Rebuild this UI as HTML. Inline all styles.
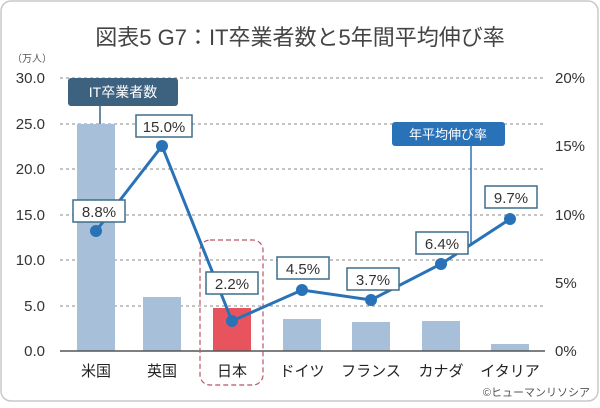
<!DOCTYPE html>
<html><head><meta charset="utf-8"><style>
body{margin:0;background:#fff;}
svg text{font-family:"Liberation Sans","Noto Sans CJK JP",sans-serif;}
</style></head><body>
<svg width="600" height="403" viewBox="0 0 600 403" xmlns="http://www.w3.org/2000/svg">
<rect x="1" y="1" width="597" height="400" rx="10" fill="#fff" stroke="#c8c8c8" stroke-width="1.5"/>
<text x="300" y="45" font-size="22" fill="#444" text-anchor="middle">図表5 G7：IT卒業者数と5年間平均伸び率</text>
<text x="12" y="62" font-size="10" fill="#555">（万人）</text>
<g stroke="#888" stroke-width="1" stroke-dasharray="3,3">
<line x1="60" y1="78" x2="545" y2="78"/><line x1="60" y1="124" x2="545" y2="124"/>
<line x1="60" y1="169" x2="545" y2="169"/><line x1="60" y1="215" x2="545" y2="215"/>
<line x1="60" y1="260" x2="545" y2="260"/><line x1="60" y1="306" x2="545" y2="306"/>
</g>
<g font-size="15" fill="#333" text-anchor="end">
<text x="45" y="83">30.0</text><text x="45" y="129">25.0</text><text x="45" y="174">20.0</text>
<text x="45" y="220">15.0</text><text x="45" y="265">10.0</text><text x="45" y="311">5.0</text><text x="45" y="356">0.0</text>
</g>
<g font-size="15" fill="#333">
<text x="555" y="83">20%</text><text x="555" y="151">15%</text><text x="555" y="220">10%</text>
<text x="555" y="288">5%</text><text x="555" y="356">0%</text>
</g>
<g fill="#a7bfd8">
<rect x="77" y="124" width="38" height="227"/><rect x="143" y="297" width="38" height="54"/>
<rect x="283" y="319" width="38" height="32"/><rect x="352" y="322" width="38" height="29"/>
<rect x="422" y="321" width="38" height="30"/><rect x="491" y="344" width="38" height="7"/>
</g>
<rect x="213" y="308" width="38" height="43" fill="#e8545e"/>
<line x1="60" y1="351" x2="545" y2="351" stroke="#555" stroke-width="1.5"/>
<rect x="200" y="240" width="63" height="145" rx="10" fill="none" stroke="#b56" stroke-width="1.2" stroke-dasharray="5,3"/>
<g font-size="15" fill="#222" text-anchor="middle">
<text x="96" y="376">米国</text><text x="162" y="376">英国</text><text x="232" y="376">日本</text>
<text x="302" y="376">ドイツ</text><text x="371" y="376">フランス</text><text x="441" y="376">カナダ</text><text x="510" y="376">イタリア</text>
</g>
<text x="590" y="396" font-size="11" fill="#555" text-anchor="end">©ヒューマンリソシア</text>
<line x1="100" y1="106" x2="100" y2="124" stroke="#3d6280" stroke-width="1.5"/>
<rect x="68" y="78" width="110" height="28" rx="3" fill="#3d6280"/>
<text x="123" y="97" font-size="14" fill="#fff" text-anchor="middle">IT卒業者数</text>
<polyline points="96,231 162,146 232,321 302,290 371,300 441,264 510,219" fill="none" stroke="#2a72b8" stroke-width="3"/>
<line x1="471" y1="146" x2="471" y2="246" stroke="#2a72b8" stroke-width="1.5"/>
<rect x="392" y="122" width="113" height="24" rx="3" fill="#2a72b8"/>
<text x="448" y="139" font-size="13" fill="#fff" text-anchor="middle">年平均伸び率</text>
<g fill="#2a72b8">
<circle cx="96" cy="231" r="6"/><circle cx="162" cy="146" r="6"/><circle cx="232" cy="321" r="6"/>
<circle cx="302" cy="290" r="6"/><circle cx="371" cy="300" r="6"/><circle cx="441" cy="264" r="6"/><circle cx="510" cy="219" r="6"/>
</g>
<g fill="#fff" stroke="#3d6f8a" stroke-width="1.5">
<rect x="73" y="200" width="52" height="22"/><rect x="136" y="115" width="56" height="22"/>
<rect x="206" y="272" width="52" height="22"/><rect x="277" y="257" width="52" height="22"/>
<rect x="347" y="268" width="52" height="22"/><rect x="416" y="232" width="52" height="22"/>
<rect x="485" y="186" width="52" height="22"/>
</g>
<g font-size="15" fill="#333" text-anchor="middle">
<text x="99" y="217">8.8%</text><text x="164" y="132">15.0%</text><text x="232" y="289">2.2%</text>
<text x="303" y="274">4.5%</text><text x="373" y="285">3.7%</text><text x="442" y="249">6.4%</text><text x="511" y="203">9.7%</text>
</g>
</svg>
</body></html>
